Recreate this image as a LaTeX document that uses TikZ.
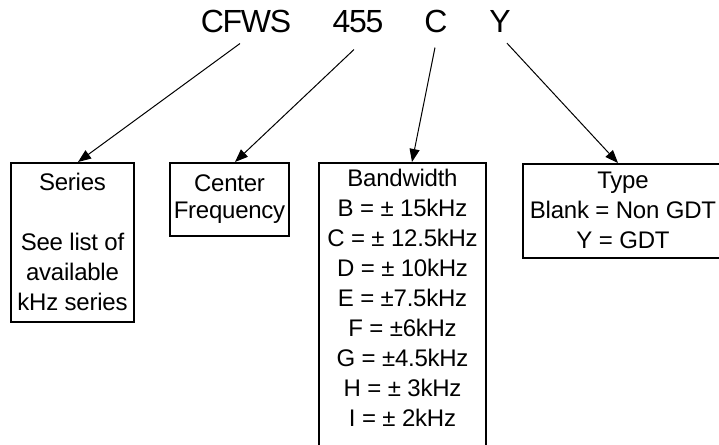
\documentclass[tikz,border=0pt]{standalone}
\usepackage{fontspec}
\setmainfont{Liberation Sans}
\usetikzlibrary{arrows.meta,calc}
\begin{document}
\begin{tikzpicture}[x=1pt,y=-1pt,
    partno/.style={font=\fontsize{32}{38}\selectfont\addfontfeatures{LetterSpace=-4}, inner sep=0pt, anchor=base},
    infobox/.style={draw, line width=1.5pt, align=center, anchor=north, inner sep=2pt,
      font=\fontsize{24}{30}\selectfont\addfontfeatures{LetterSpace=-1}},
    pointer/.style={line width=1pt, -{Triangle[length=13pt,width=10pt]}}]
    \useasboundingbox (0,0) rectangle (719,444);

    \node[partno] (cfws) at (246,33) {CFWS};
    \node[partno] (freq) at (358,33) {455};
    \node[partno] (bwc) at (436,33) {C};
    \node[partno] (typ) at (500,33) {Y};

    \node[infobox, minimum width=123pt, minimum height=159pt] (series) at (72.5,162)
      {Series\\[30pt]See list of\\available\\kHz series};
    \node[infobox, minimum width=119pt, minimum height=73pt] (center) at (229.5,162)
      {Center\\[-3pt]Frequency};
    \node[infobox, minimum width=167pt, inner ysep=6pt, text depth=60pt] (band) at (402.5,162)
      {Bandwidth\\B = ± 15kHz\\C = ± 12.5kHz\\D = ± 10kHz\\E = ±7.5kHz\\F = ±6kHz\\G = ±4.5kHz\\H = ± 3kHz\\I = ± 2kHz};
    \node[infobox, minimum width=200pt, minimum height=94pt] (type) at (623,163)
      {Type\\Blank = Non GDT\\Y = GDT};

    \draw[pointer] ($(cfws.south)+(-6,10)$) -- ($(series.north)+(5.5,0)$);
    \draw[pointer] ($(freq.south)+(-4,16)$) -- ($(center.north)+(5.5,0)$);
    \draw[pointer] ($(bwc.south)+(-1,14)$) -- ($(band.north)+(9.5,0)$);
    \draw[pointer] ($(typ.south)+(7,10)$) -- ($(type.north)+(-5,0)$);
  \end{tikzpicture}
\end{document}
